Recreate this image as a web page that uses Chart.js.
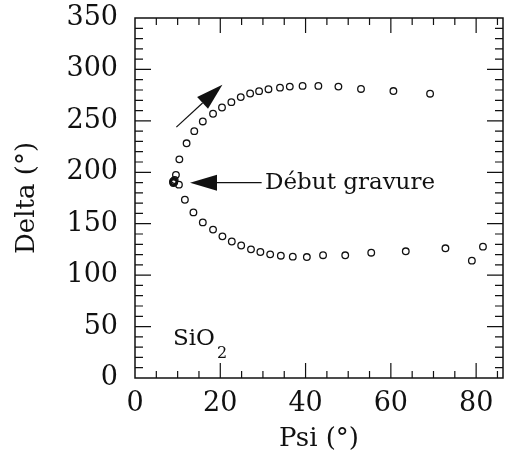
<!DOCTYPE html>
<html>
<head>
<meta charset="utf-8">
<script src="https://cdn.jsdelivr.net/npm/chart.js@4/dist/chart.umd.min.js"></script>
<style>
  html, body { margin: 0; padding: 0; background: #fff; }
  #wrap { width: 514px; height: 459px; }
</style>
</head>
<body>
<div id="wrap"><canvas id="chart"></canvas></div>
<script>
// upper branch (Delta rising then flat), starts with the overlapping start cluster
const psiUp = [8.9, 9.0, 9.1, 9.2, 9.3, 9.6, 10.4, 12.1, 13.9, 15.9, 18.3, 20.4, 22.6, 24.8, 27.0, 29.1, 31.3, 34.0, 36.3, 39.3, 43.0, 47.7, 53.0, 60.6, 69.2];
const deltaUp = [190.8, 189.5, 191.5, 190.2, 192.5, 197.5, 212.6, 228.2, 240.0, 249.4, 256.9, 263.0, 268.2, 273.1, 276.6, 278.9, 280.8, 282.3, 283.3, 284.0, 284.0, 283.3, 281.0, 279.0, 276.4];
// lower branch
const psiDown = [10.3, 11.7, 13.7, 15.9, 18.3, 20.5, 22.7, 24.9, 27.2, 29.4, 31.7, 34.2, 37.0, 40.3, 44.1, 49.3, 55.4, 63.5, 72.8, 79.0, 81.6];
const deltaDown = [188, 173.3, 161, 151.3, 144.3, 137.7, 132.7, 128.8, 125.1, 122.5, 120.2, 118.9, 118.0, 117.6, 119.4, 119.3, 121.8, 123.2, 126.1, 114.1, 127.7];

const xTicks = [0, 20, 40, 60, 80];
const yTicks = [0, 50, 100, 150, 200, 250, 300, 350];

// annotations, in data units
const arrows = [
  { from: [9.7, 243.9], to: [20.5, 285.2] },
  { from: [29.7, 189.9], to: [12.9, 189.9] }
];
const noteText = "Début gravure";
const notePos = [30.5, 189.9];
const sampleLabel = ["SiO", "2"];
const samplePos = [8.9, 32];

const FONT = "'DejaVu Serif', serif";
const INK = "#111";

function toXY(data, ys) {
  return data.map((x, i) => ({ x: x, y: ys[i] }));
}

const framePlugin = {
  id: "frame",
  afterDatasetsDraw(chart) {
    const ctx = chart.ctx;
    const a = chart.chartArea;
    const xs = chart.scales.x;
    const ys = chart.scales.y;
    ctx.save();
    ctx.strokeStyle = INK;
    ctx.lineWidth = 1.5;
    ctx.strokeRect(a.left, a.top, a.right - a.left, a.bottom - a.top);
    ctx.lineWidth = 1.2;
    ctx.beginPath();
    // x ticks, every 5, major every 20
    for (let v = 5; v < xs.max; v += 5) {
      const px = xs.getPixelForValue(v);
      const len = v % 20 === 0 ? 15 : 7;
      ctx.moveTo(px, a.bottom); ctx.lineTo(px, a.bottom - len);
      ctx.moveTo(px, a.top); ctx.lineTo(px, a.top + len);
    }
    // y ticks, every 10, major every 50
    for (let v = 10; v < ys.max; v += 10) {
      const py = ys.getPixelForValue(v);
      const len = v % 50 === 0 ? 16 : 8;
      ctx.moveTo(a.left, py); ctx.lineTo(a.left + len, py);
      ctx.moveTo(a.right, py); ctx.lineTo(a.right - len, py);
    }
    ctx.stroke();

    // arrows
    ctx.fillStyle = INK;
    ctx.lineWidth = 1.2;
    arrows.forEach(ar => {
      const x0 = xs.getPixelForValue(ar.from[0]), y0 = ys.getPixelForValue(ar.from[1]);
      const x1 = xs.getPixelForValue(ar.to[0]), y1 = ys.getPixelForValue(ar.to[1]);
      const ang = Math.atan2(y1 - y0, x1 - x0);
      const hl = 27, hw = 8;
      const bx = x1 - hl * Math.cos(ang), by = y1 - hl * Math.sin(ang);
      ctx.beginPath();
      ctx.moveTo(x0, y0); ctx.lineTo(bx, by);
      ctx.stroke();
      ctx.beginPath();
      ctx.moveTo(x1, y1);
      ctx.lineTo(bx + hw * Math.sin(ang), by - hw * Math.cos(ang));
      ctx.lineTo(bx - hw * Math.sin(ang), by + hw * Math.cos(ang));
      ctx.closePath();
      ctx.fill();
    });

    // texts
    ctx.textBaseline = "middle";
    ctx.textAlign = "left";
    ctx.font = "23px " + FONT;
    ctx.fillText(noteText, xs.getPixelForValue(notePos[0]), ys.getPixelForValue(notePos[1]));

    ctx.textBaseline = "alphabetic";
    ctx.font = "23px " + FONT;
    const sx = xs.getPixelForValue(samplePos[0]), sy = ys.getPixelForValue(samplePos[1]);
    ctx.fillText(sampleLabel[0], sx, sy);
    const w = ctx.measureText(sampleLabel[0]).width;
    ctx.font = "16px " + FONT;
    ctx.fillText(sampleLabel[1], sx + w + 2, sy + 13);
    ctx.restore();
  }
};

const pointStyle = {
  showLine: false,
  pointRadius: 3.3,
  pointBorderWidth: 1.3,
  pointBorderColor: INK,
  pointBackgroundColor: "rgba(0,0,0,0)",
  pointHoverRadius: 3.3
};

new Chart(document.getElementById("chart"), {
  type: "scatter",
  data: {
    datasets: [
      Object.assign({ label: "up", data: toXY(psiUp, deltaUp) }, pointStyle),
      Object.assign({ label: "down", data: toXY(psiDown, deltaDown) }, pointStyle)
    ]
  },
  options: {
    responsive: true,
    maintainAspectRatio: false,
    animation: false,
    layout: { padding: { top: 18, right: 11, left: 0, bottom: 0 } },
    plugins: { legend: { display: false }, tooltip: { enabled: false } },
    scales: {
      x: {
        type: "linear",
        min: 0,
        max: 86.3,
        afterFit: s => { s.height = 81; s.paddingLeft = 0; s.paddingRight = 0; },
        afterBuildTicks: s => { s.ticks = xTicks.map(v => ({ value: v })); },
        grid: { display: false, drawTicks: false },
        border: { display: false },
        ticks: { color: INK, padding: 10, font: { family: FONT, size: 27 }, maxRotation: 0 },
        title: { display: true, text: "Psi (°)", color: INK, padding: { top: 0 }, font: { family: FONT, size: 26 } }
      },
      y: {
        type: "linear",
        min: 0,
        max: 350,
        afterFit: s => { s.width = 135; s.paddingTop = 0; s.paddingBottom = 0; },
        afterBuildTicks: s => { s.ticks = yTicks.map(v => ({ value: v })); },
        grid: { display: false, drawTicks: false },
        border: { display: false },
        ticks: { color: INK, padding: 17, font: { family: FONT, size: 27 } },
        title: { display: true, text: "Delta (°)", color: INK, padding: { top: 12, bottom: 0 }, font: { family: FONT, size: 26 } }
      }
    }
  },
  plugins: [framePlugin]
});
</script>
</body>
</html>
